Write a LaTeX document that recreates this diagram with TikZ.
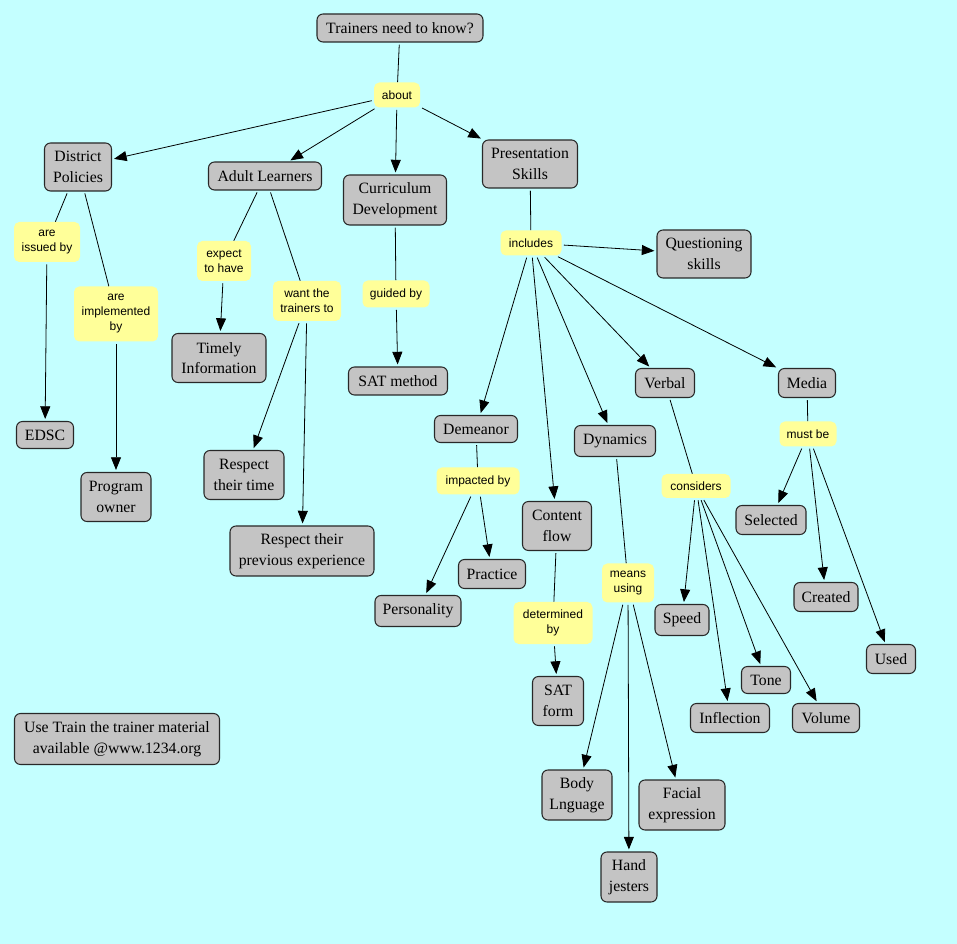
\documentclass[tikz,border=0pt]{standalone}
\usepackage{fontspec}
\setmainfont{Liberation Serif}
\newfontfamily\lkfont{Liberation Sans}
\usetikzlibrary{arrows.meta}
\definecolor{bgc}{RGB}{196,255,255}
\definecolor{cfill}{RGB}{196,196,196}
\definecolor{lfill}{RGB}{255,255,153}
\definecolor{cline}{RGB}{40,40,40}
\tikzset{
  sz/.style 2 args={minimum width=#1*0.75pt, minimum height=#2*0.75pt},
  concept/.style={draw=cline, line width=0.8pt, fill=cfill, rounded corners=4.5pt, inner sep=0pt, align=center, font=\fontsize{11.8}{15.5}\selectfont},
  link/.style={fill=lfill, rounded corners=4pt, inner sep=0pt, align=center, font=\lkfont\fontsize{9}{11.25}\selectfont},
  ln/.style={draw=black, line width=0.6pt, shorten <=1.5pt},
  ar/.style={ln, -{Triangle[length=9.5pt,width=7.5pt]}, shorten >=1.5pt}
}
\begin{document}
\begin{tikzpicture}[x=0.75pt,y=-0.75pt]
\useasboundingbox (0,0) rectangle (957,944);
\fill[bgc] (0,0) rectangle (957,944);
% concepts
\node[concept, sz={166}{28}] (t) at (400,28) {Trainers need to know?};
\node[concept, sz={67}{48}] (dp) at (78,167) {District\\Policies};
\node[concept, sz={113}{28}] (al) at (265,176) {Adult Learners};
\node[concept, sz={103}{50}] (cd) at (395,200) {Curriculum\\Development};
\node[concept, sz={95}{48}] (ps) at (530,164) {Presentation\\Skills};
\node[concept, sz={94}{49}] (ti) at (219,358) {Timely\\Information};
\node[concept, sz={99}{28}] (sm) at (398,381) {SAT method};
\node[concept, sz={57}{27}] (ed) at (45,435) {EDSC};
\node[concept, sz={70}{49}] (po) at (116,497) {Program\\owner};
\node[concept, sz={80}{49}] (rt) at (244,475) {Respect\\their time};
\node[concept, sz={144}{50}] (rp) at (302,551) {Respect their\\previous experience};
\node[concept, sz={94}{48}] (qs) at (704,254) {Questioning\\skills};
\node[concept, sz={83}{27}] (de) at (476,429) {Demeanor};
\node[concept, sz={81}{31}] (dy) at (615,441) {Dynamics};
\node[concept, sz={59}{29}] (ve) at (665,383) {Verbal};
\node[concept, sz={57}{29}] (me) at (807,383) {Media};
\node[concept, sz={69}{49}] (cf) at (557,526) {Content\\flow};
\node[concept, sz={67}{29}] (pr) at (492,574) {Practice};
\node[concept, sz={86}{31}] (pe) at (418,611) {Personality};
\node[concept, sz={70}{29}] (se) at (771,520) {Selected};
\node[concept, sz={51}{49}] (sf) at (558,701) {SAT\\form};
\node[concept, sz={54}{31}] (sp) at (682,620) {Speed};
\node[concept, sz={64}{29}] (cr) at (826,597) {Created};
\node[concept, sz={49}{27}] (to) at (766,680) {Tone};
\node[concept, sz={79}{29}] (in) at (730,718) {Inflection};
\node[concept, sz={67}{29}] (vo) at (826,718) {Volume};
\node[concept, sz={49}{29}] (us) at (891,659) {Used};
\node[concept, sz={205}{51}] (tt) at (117,739) {Use Train the trainer material\\available @www.1234.org};
\node[concept, sz={70}{50}] (bl) at (577,795) {Body\\Lnguage};
\node[concept, sz={86}{50}] (fe) at (682,805) {Facial\\expression};
\node[concept, sz={56}{50}] (hj) at (629,877) {Hand\\jesters};
% linking phrases
\node[link, sz={46}{25}] (ab) at (397,95) {about};
\node[link, sz={66}{40}] (ib) at (47,242) {are\\issued by};
\node[link, sz={84}{55}] (ib2) at (116,314) {are\\implemented\\by};
\node[link, sz={54}{40}] (eh) at (224,261) {expect\\to have};
\node[link, sz={68}{40}] (wt) at (307,301) {want the\\trainers to};
\node[link, sz={67}{27}] (gb) at (396,294) {guided by};
\node[link, sz={61}{25}] (inc) at (531,243) {includes};
\node[link, sz={83}{27}] (ib3) at (478,481) {impacted by};
\node[link, sz={52}{39}] (mu) at (628,583) {means\\using};
\node[link, sz={69}{24}] (co) at (696,486) {considers};
\node[link, sz={57}{25}] (mb) at (808,434) {must be};
\node[link, sz={79}{42}] (db) at (553,623) {determined\\by};
% connectors
\draw[ln] (t) -- (ab);
\draw[ar] (ab) -- (dp);
\draw[ar] (ab) -- (al);
\draw[ar] (ab) -- (cd);
\draw[ar] (ab) -- (ps);
\draw[ln] (dp) -- (ib);
\draw[ar] (ib) -- (ed);
\draw[ln] (dp) -- (ib2);
\draw[ar] (ib2) -- (po);
\draw[ln] (al) -- (eh);
\draw[ar] (eh) -- (ti);
\draw[ln] (al) -- (wt);
\draw[ar] (wt) -- (rt);
\draw[ar] (wt) -- (rp);
\draw[ln] (cd) -- (gb);
\draw[ar] (gb) -- (sm);
\draw[ln] (ps) -- (inc);
\draw[ar] (inc) -- (qs);
\draw[ar] (inc) -- (de);
\draw[ar] (inc) -- (cf);
\draw[ar] (inc) -- (dy);
\draw[ar] (inc) -- (ve);
\draw[ar] (inc) -- (me);
\draw[ln] (de) -- (ib3);
\draw[ar] (ib3) -- (pe);
\draw[ar] (ib3) -- (pr);
\draw[ln] (cf) -- (db);
\draw[ar] (db) -- (sf);
\draw[ln] (dy) -- (mu);
\draw[ar] (mu) -- (bl);
\draw[ar] (mu) -- (hj);
\draw[ar] (mu) -- (fe);
\draw[ln] (ve) -- (co);
\draw[ar] (co) -- (sp);
\draw[ar] (co) -- (in);
\draw[ar] (co) -- (to);
\draw[ar] (co) -- (vo);
\draw[ln] (me) -- (mb);
\draw[ar] (mb) -- (se);
\draw[ar] (mb) -- (cr);
\draw[ar] (mb) -- (us);
\end{tikzpicture}
\end{document}
